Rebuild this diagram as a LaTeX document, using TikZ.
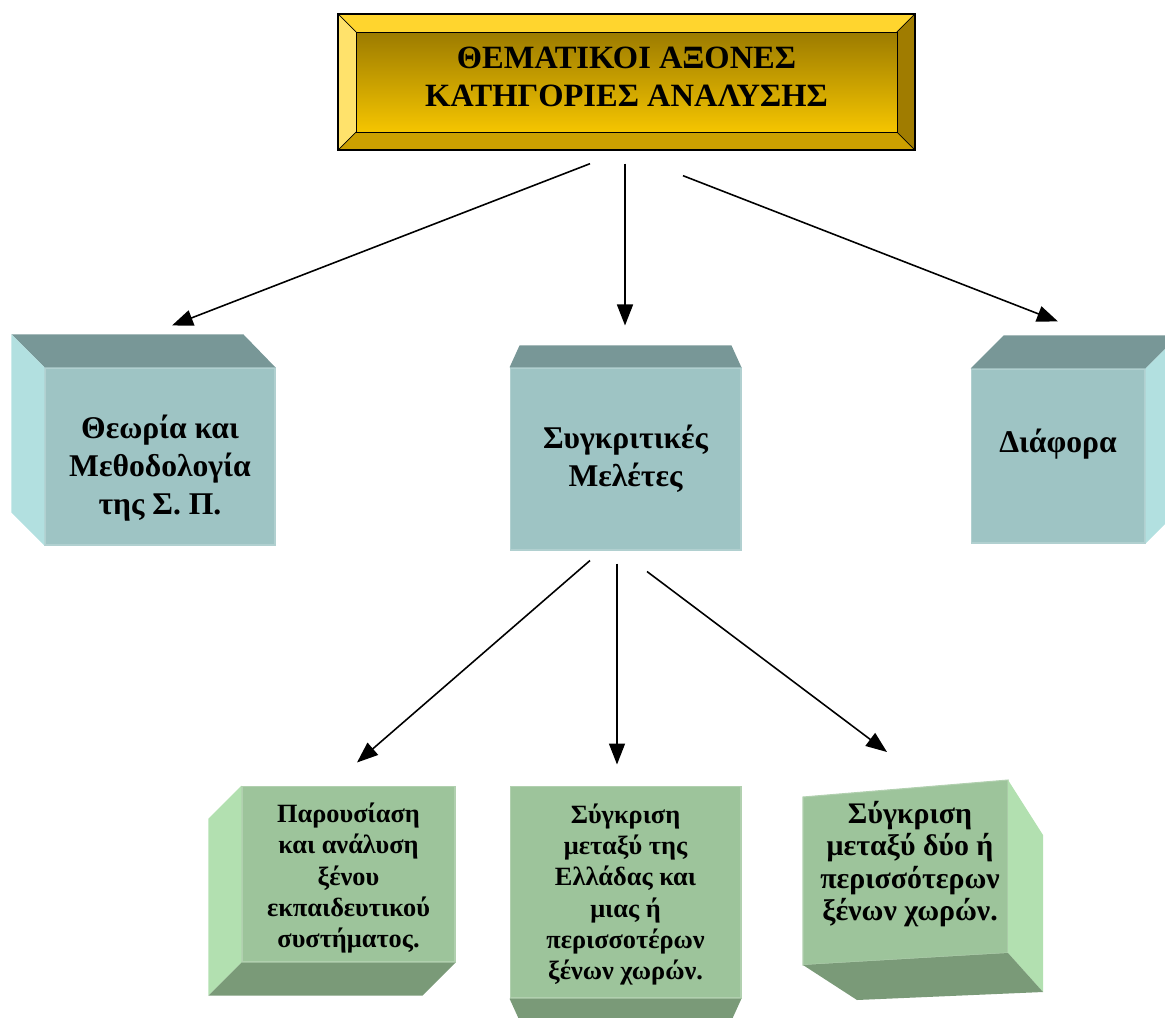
\documentclass[tikz,border=0pt]{standalone}
\usepackage{fontspec}
\setmainfont{Liberation Serif}
\usetikzlibrary{arrows.meta}

\definecolor{goldtop}{HTML}{FFD52E}
\definecolor{goldleft}{HTML}{FFE26B}
\definecolor{goldright}{HTML}{A07C00}
\definecolor{goldbottom}{HTML}{CCA000}
\definecolor{golddark}{HTML}{9C7B00}
\definecolor{goldlight}{HTML}{F5C500}
\definecolor{tealfront}{HTML}{9EC4C4}
\definecolor{tealtop}{HTML}{789797}
\definecolor{tealside}{HTML}{B2E0E0}
\definecolor{greenfront}{HTML}{9DC49B}
\definecolor{greenside}{HTML}{B2E0B0}
\definecolor{greenbottom}{HTML}{7A9A78}

\begin{document}
\begin{tikzpicture}[x=0.02cm, y=-0.02cm,
    arr/.style={-{Triangle[length=4.2mm, width=3.2mm]}, line width=0.9pt},
    boxtext/.style={align=center, inner sep=0pt, font=\bfseries\fontsize{18}{21.5}\selectfont},
    smalltext/.style={align=center, inner sep=0pt, font=\bfseries\fontsize{15}{17.8}\selectfont},
    tealbox/.style={boxtext, fill=tealfront, draw=tealfront!80!white, line width=0.6pt},
    greenbox/.style={smalltext, fill=greenfront, draw=greenfront!80!white, line width=0.6pt},
    titlebox/.style={draw=black, line width=0.8pt, align=center,
        minimum width=11.54cm, minimum height=2.72cm,
        path picture={
          \fill[goldtop] (path picture bounding box.north west) -- (path picture bounding box.north east)
             -- ([shift={(-0.36cm,-0.36cm)}]path picture bounding box.north east) -- ([shift={(0.36cm,-0.36cm)}]path picture bounding box.north west) -- cycle;
          \fill[goldleft] (path picture bounding box.north west) -- (path picture bounding box.south west)
             -- ([shift={(0.36cm,0.36cm)}]path picture bounding box.south west) -- ([shift={(0.36cm,-0.36cm)}]path picture bounding box.north west) -- cycle;
          \fill[goldright] (path picture bounding box.north east) -- (path picture bounding box.south east)
             -- ([shift={(-0.36cm,0.36cm)}]path picture bounding box.south east) -- ([shift={(-0.36cm,-0.36cm)}]path picture bounding box.north east) -- cycle;
          \fill[goldbottom] (path picture bounding box.south west) -- (path picture bounding box.south east)
             -- ([shift={(-0.36cm,0.36cm)}]path picture bounding box.south east) -- ([shift={(0.36cm,0.36cm)}]path picture bounding box.south west) -- cycle;
          \shade[top color=golddark, bottom color=goldlight, draw=black, line width=0.4pt]
             ([shift={(0.36cm,-0.36cm)}]path picture bounding box.north west) rectangle ([shift={(-0.36cm,0.36cm)}]path picture bounding box.south east);
          \draw[line width=0.4pt] (path picture bounding box.north west) -- ++(0.36cm,-0.36cm)
             (path picture bounding box.north east) -- ++(-0.36cm,-0.36cm)
             (path picture bounding box.south west) -- ++(0.36cm,0.36cm)
             (path picture bounding box.south east) -- ++(-0.36cm,0.36cm);
        }}]

  \useasboundingbox (0,0) rectangle (1165,1017);
  \clip (0,0) rectangle (1165,1017);

  % title
  \node [titlebox, label={[align=center, font=\bfseries\fontsize{18.5}{21.5}\selectfont, yshift=0.1cm]center:ΘΕΜΑΤΙΚΟΙ ΑΞΟΝΕΣ\\ΚΑΤΗΓΟΡΙΕΣ ΑΝΑΛΥΣΗΣ}] (title) at (626.5,82) {};

  % second row
  \node [tealbox, minimum width=4.6cm,  minimum height=3.54cm, label={[boxtext, yshift=-0.23cm]center:Θεωρία και\\Μεθοδολογία\\της Σ. Π.}] (theory) at (160,456.5) {};
  \node [tealbox, minimum width=4.62cm, minimum height=3.64cm] (compare) at (625.5,459)  {Συγκριτικές\\Μελέτες};
  \node [tealbox, minimum width=3.48cm, minimum height=3.48cm, label={[boxtext, yshift=0.24cm]center:Διάφορα}] (misc) at (1058,456) {};

  \fill [tealtop]  (theory.north west) -- ++(-33,-33) -- ([shift={(-32,-33)}]theory.north east) -- (theory.north east) -- cycle;
  \fill [tealside] (theory.north west) -- ++(-33,-33) -- ([shift={(-33,-33)}]theory.south west) -- (theory.south west) -- cycle;
  \fill [tealtop]  (compare.north west) -- ++(10,-22) -- ([shift={(-10,-22)}]compare.north east) -- (compare.north east) -- cycle;
  \fill [tealtop]  (misc.north west) -- ++(33,-33) -- ([shift={(33,-33)}]misc.north east) -- (misc.north east) -- cycle;
  \fill [tealside] (misc.north east) -- ++(33,-33) -- ([shift={(33,-33)}]misc.south east) -- (misc.south east) -- cycle;

  % third row
  \node [greenbox, minimum width=4.26cm, minimum height=3.52cm, label={[smalltext, yshift=-0.08cm]center:Παρουσίαση\\και ανάλυση\\ξένου\\εκπαιδευτικού\\συστήματος.}] (present) at (348.5,874) {};
  \node [greenbox, minimum width=4.62cm, minimum height=4.24cm, label={[smalltext, yshift=-0.05cm]center:Σύγκριση\\μεταξύ της\\Ελλάδας και\\μιας ή\\περισσοτέρων\\ξένων χωρών.}] (greece) at (625.5,892) {};

  \fill [greenside]   (present.north west) -- ++(-33,33) -- ([shift={(-33,33)}]present.south west) -- (present.south west) -- cycle;
  \fill [greenbottom] (present.south west) -- ++(-33,33) -- ([shift={(-33,33)}]present.south east) -- (present.south east) -- cycle;
  \fill [greenbottom] (greece.south west) -- ++(10,22) -- ([shift={(-10,22)}]greece.south east) -- (greece.south east) -- cycle;

  \fill [greenfront, draw=greenfront!80!white, line width=0.6pt] (803,797) -- (1008,780) -- (1008,953) -- (803,965) -- cycle;
  \fill [greenside]   (1008,780) -- (1043,835) -- (1043,992) -- (1008,953) -- cycle;
  \fill [greenbottom] (803,965) -- (1008,953) -- (1043,992) -- (857,1000) -- cycle;
  \node [align=center, inner sep=0pt, font=\bfseries\fontsize{17}{18.3}\selectfont] (many) at (910,864) {Σύγκριση\\μεταξύ δύο ή\\περισσότερων\\ξένων χωρών.};

  % arrows
  \draw [arr] ([shift={(-36.5,13)}]title.south) -- ([shift={(12,-42)}]theory.north);
  \draw [arr] ([shift={(-1.5,13)}]title.south)  -- ([shift={(-0.5,-42)}]compare.north);
  \draw [arr] ([shift={(56.5,25)}]title.south)  -- ([shift={(0,-47)}]misc.north);

  \draw [arr] ([shift={(-35.5,10)}]compare.south) -- ([shift={(8.5,-23)}]present.north);
  \draw [arr] ([shift={(-8.5,13)}]compare.south)  -- ([shift={(-8.5,-21)}]greece.north);
  \draw [arr] ([shift={(21.5,21)}]compare.south)  -- ([shift={(-23,-112)}]many.center);

\end{tikzpicture}
\end{document}
